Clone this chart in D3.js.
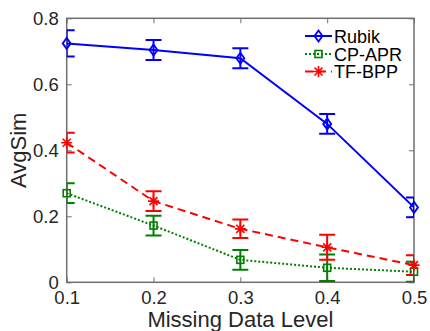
<!DOCTYPE html>
<html>
<head>
<meta charset="utf-8">
<script src="https://cdn.jsdelivr.net/npm/d3@7"></script>
<style>
  body { margin: 0; background: #fff; }
  svg { font-family: "Liberation Sans", Arial, sans-serif; }
</style>
</head>
<body>
<div id="chart"></div>
<script>
// chart data
var levels = [0.1, 0.2, 0.3, 0.4, 0.5];
var xTicks = [0.1, 0.2, 0.3, 0.4, 0.5];
var yTicks = [0, 0.2, 0.4, 0.6, 0.8];

var rubik    = [0.724, 0.704, 0.679, 0.480, 0.227];
var rubikErr = [0.040, 0.030, 0.030, 0.030, 0.030];
var cpapr    = [0.270, 0.172, 0.068, 0.044, 0.032];
var cpaprErr = [0.030, 0.030, 0.030, 0.040, 0.030];
var tfbpp    = [0.423, 0.246, 0.162, 0.106, 0.052];
var tfbppErr = [0.030, 0.030, 0.028, 0.038, 0.030];

var seriesNames = ["Rubik", "CP-APR", "TF-BPP"];

// set the outer and inner width and height
var margin = {top: 18.3, right: 16, bottom: 48.7, left: 66.7},
    width = 430 - margin.left - margin.right,
    height = 331 - margin.top - margin.bottom;

var svg = d3.select("#chart")
  .append("svg")
    .attr("width", 430)
    .attr("height", 331);

var chart = svg.append("g")
    .attr("transform", "translate(" + margin.left + "," + margin.top + ")");

var x = d3.scaleLinear().domain([0.1, 0.5]).range([0, width]);
var y = d3.scaleLinear().domain([0, 0.8]).range([height, 0]);

var axisColor = "#6f6f6f";
var textColor = "#262626";

// clip path for lines and error bars
chart.append("clipPath")
    .attr("id", "plotclip")
  .append("rect")
    .attr("width", width)
    .attr("height", height);

// axes (ticks pointing inwards, like matlab)
function styleAxis(g) {
  g.select(".domain").remove();
  g.selectAll(".tick line").attr("stroke", axisColor).attr("stroke-width", 1);
  g.selectAll(".tick text").attr("fill", textColor).style("font-size", "18.5px");
}

chart.append("g")
    .attr("transform", "translate(0," + height + ")")
    .call(d3.axisBottom(x).tickValues(xTicks).tickFormat(d3.format(".1f")).tickSizeInner(-5).tickPadding(9))
    .call(styleAxis);

chart.append("g")
    .call(d3.axisTop(x).tickValues(xTicks).tickFormat("").tickSizeInner(-5))
    .call(styleAxis);

chart.append("g")
    .call(d3.axisLeft(y).tickValues(yTicks).tickFormat(function (d) { return d === 0 ? "0" : d3.format(".1f")(d); }).tickSizeInner(-5).tickPadding(8))
    .call(styleAxis);

chart.append("g")
    .attr("transform", "translate(" + width + ",0)")
    .call(d3.axisRight(y).tickValues(yTicks).tickFormat("").tickSizeInner(-5))
    .call(styleAxis);

// plot box
chart.append("rect")
    .attr("width", width)
    .attr("height", height)
    .attr("fill", "none")
    .attr("stroke", axisColor)
    .attr("stroke-width", 1.5);

// axis labels
svg.append("text")
    .attr("x", margin.left + width / 2)
    .attr("y", 327)
    .attr("text-anchor", "middle")
    .attr("fill", textColor)
    .style("font-size", "22px")
    .text("Missing Data Level");

svg.append("text")
    .attr("transform", "translate(26," + (margin.top + height / 2) + ") rotate(-90)")
    .attr("text-anchor", "middle")
    .attr("fill", textColor)
    .style("font-size", "22px")
    .text("AvgSim");

// marker drawing
function drawMarker(g, type, color) {
  if (type === "diamond") {
    g.append("path").attr("d", "M0,-5.5L4,0L0,5.5L-4,0Z")
      .attr("fill", "none").attr("stroke", color).attr("stroke-width", 1.8);
  } else if (type === "square") {
    g.append("rect").attr("x", -3.5).attr("y", -3.5).attr("width", 7).attr("height", 7)
      .attr("fill", "none").attr("stroke", color).attr("stroke-width", 1.6);
  } else {
    g.append("path").attr("d", "M-5.5,0H5.5M0,-5.5V5.5M-4,-4L4,4M-4,4L4,-4")
      .attr("fill", "none").attr("stroke", color).attr("stroke-width", 1.6);
  }
}

var series = [
  {name: seriesNames[0], values: rubik, errs: rubikErr, color: "#0000ff", dash: null, marker: "diamond"},
  {name: seriesNames[1], values: cpapr, errs: cpaprErr, color: "#008000", dash: "2,2", marker: "square"},
  {name: seriesNames[2], values: tfbpp, errs: tfbppErr, color: "#ff0000", dash: "8,5", marker: "star"}
];

var line = d3.line()
  .x(function (d) { return x(d.x); })
  .y(function (d) { return y(d.y); });

series.forEach(function (s) {
  var pts = levels.map(function (l, i) { return {x: l, y: s.values[i], e: s.errs[i]}; });
  var g = chart.append("g");
  var clipped = g.append("g").attr("clip-path", "url(#plotclip)");

  clipped.append("path")
    .datum(pts)
    .attr("d", line)
    .attr("fill", "none")
    .attr("stroke", s.color)
    .attr("stroke-width", 2)
    .attr("stroke-dasharray", s.dash);

  // error bars
  var cap = 8;
  pts.forEach(function (p) {
    var px = x(p.x), top = y(p.y + p.e), bot = y(p.y - p.e);
    clipped.append("path")
      .attr("d", "M" + px + "," + top + "V" + bot +
                 "M" + (px - cap) + "," + top + "H" + (px + cap) +
                 "M" + (px - cap) + "," + bot + "H" + (px + cap))
      .attr("fill", "none")
      .attr("stroke", s.color)
      .attr("stroke-width", 2);
  });

  pts.forEach(function (p) {
    var m = g.append("g").attr("transform", "translate(" + x(p.x) + "," + y(p.y) + ")");
    drawMarker(m, s.marker, s.color);
  });
});

// legend, no box
var legend = svg.append("g");
var legendY = [36, 54, 71.5];
series.forEach(function (s, i) {
  var row = legend.append("g").attr("transform", "translate(0," + legendY[i] + ")");
  row.append("line")
    .attr("x1", 305).attr("x2", 332)
    .attr("stroke", s.color)
    .attr("stroke-width", 2)
    .attr("stroke-dasharray", s.dash);
  var m = row.append("g").attr("transform", "translate(318.5,0)");
  drawMarker(m, s.marker, s.color);
  row.append("text")
    .attr("x", 334)
    .attr("y", 6.5)
    .attr("fill", "#000")
    .style("font-size", "18px")
    .text(s.name);
});
</script>
</body>
</html>
